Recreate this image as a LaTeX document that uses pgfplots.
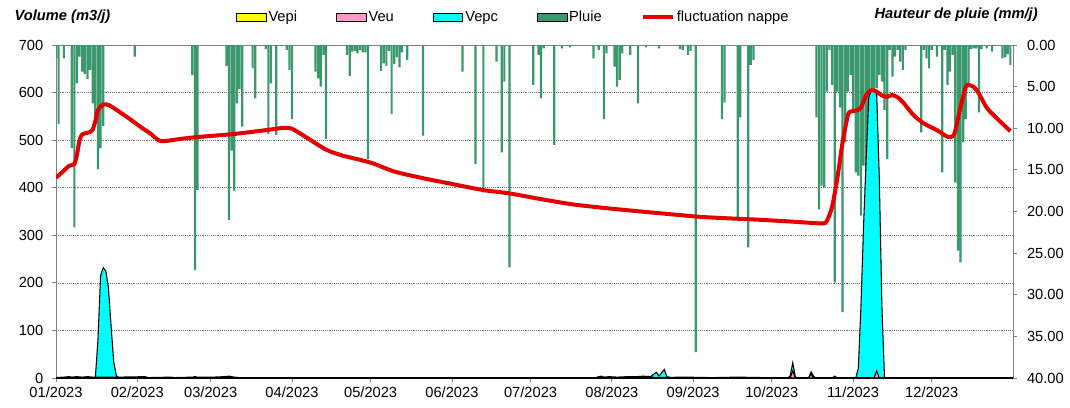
\documentclass[border=0pt]{standalone}
\usepackage{fontspec}
\setmainfont{Liberation Sans}
\usepackage{pgfplots}
\usepackage{pgfplotstable}
\pgfplotsset{compat=1.18}

\definecolor{pluie}{RGB}{58,152,108}
\definecolor{nappe}{RGB}{228,0,0}
\definecolor{vepc}{RGB}{0,255,255}
\definecolor{veu}{RGB}{255,153,204}
\definecolor{vepi}{RGB}{255,255,0}
\definecolor{cadre}{RGB}{128,128,128}

% pluie journaliere (mm/j), jour 0 = 01/01/2023
\pgfplotstableread{
jour mm
0 1.6
1 9.5
3 1.6
6 12.4
7 21.9
8 4.6
9 1.4
10 3.2
11 3.5
12 4.1
13 3.0
14 7.0
15 8.6
16 14.9
17 12.4
18 9.7
30 1.4
52 3.6
53 27.0
54 17.4
65 2.5
66 21.0
67 12.7
68 17.5
69 7.0
70 5.3
71 9.8
75 2.8
76 6.4
80 0.5
81 10.7
82 4.6
84 10.8
88 0.6
89 3.0
90 8.9
99 3.2
100 4.0
101 5.0
102 1.2
103 11.3
111 1.2
112 3.7
113 0.8
114 0.7
115 1.0
116 0.6
117 0.9
118 0.9
119 13.7
124 3.1
125 2.2
126 2.5
127 0.7
128 8.3
129 2.3
130 1.5
131 2.7
132 0.9
134 1.8
140 10.9
155 3.2
160 14.3
163 17.7
168 2.0
170 12.9
171 4.4
173 26.7
182 4.8
184 1.2
185 6.4
186 0.4
190 12.0
193 0.4
196 0.3
205 1.6
207 0.6
209 8.9
210 1.0
213 2.6
214 5.0
215 4.2
216 1.0
219 1.2
222 7.0
225 0.3
230 0.4
238 0.5
239 0.6
241 1.2
242 0.7
244 36.9
254 8.9
255 6.9
260 20.7
261 8.7
264 24.3
265 2.4
266 1.8
290 8.7
291 19.7
292 16.9
293 17.1
294 5.6
295 0.6
296 4.8
297 28.5
298 5.6
299 7.5
300 32.1
301 11.7
302 5.6
303 3.6
304 7.9
305 15.3
306 15.7
307 20.5
308 14.5
309 16.0
310 9.7
311 5.2
312 11.5
313 5.2
314 3.6
315 4.4
316 7.8
317 13.7
318 0.6
319 3.8
320 1.4
321 0.6
322 2.0
323 3.0
324 0.6
330 10.5
331 0.6
332 1.6
333 2.8
334 0.6
336 1.4
338 15.3
339 0.6
340 4.8
341 3.2
342 1.2
343 16.5
344 24.7
345 26.1
346 11.7
347 8.9
348 5.0
349 0.5
350 0.4
351 0.4
352 8.1
353 0.5
355 0.4
357 0.8
361 1.6
362 1.5
363 1.1
364 2.4
}\pluietab

\pgfplotstableread{
jour v
0 421
3 436
5 446
7 450
8 470
9 500
10 512
13 517
14 522
15 540
16 563
18 575
20 574
23 564
28 545
33 525
36 514
40 498
48 503
55 507
68 513
80 521
87 526
90 524
96 504
103 480
109 468
115 460
121 451
129 434
140 420
150 409
163 395
173 388
185 376
197 365
210 357
223 350
235 344
245 339
255 336
267 333
280 329
292 325
294 330
296 360
298 420
300 496
302 552
303 560
305 562
307 568
309 595
311 605
313 602
315 594
317 591
319 595
321 590
323 580
327 553
331 535
336 521
340 507
342 508
343 520
345 570
347 612
348 616
350 612
352 598
355 568
359 545
364 519
}\nappetab

\pgfplotstableread{
jour v
0 0
3 1
5 2
6 1
8 2
10 1
12 2
14 1
16 1
24 1
34 2
35 0
44 1
45 0
52 1
53 2
54 1
60 1
64 2
66 3
67 2
68 1
70 0
206 0
207 2
208 3
209 1
211 2
214 1
218 2
221 2
224 3
227 2
228 0
240 1
250 0
260 1
270 0
365 0
}\vepitab

\pgfplotstableread{
jour v
14 0
15 0
16 80
17 215
18 232
19 225
20 190
21 110
22 35
23 5
24 0
226 0
229 12
230 4
232 18
233 3
235 0
279 0
280 4
281 32
282 2
283 0
287 0
288 13
289 3
290 0
296 0
297 4
298 0
305 0
306 20
307 150
308 320
309 460
310 590
311 605
312 603
313 598
314 420
315 150
316 0
}\vepctab

\pgfplotstableread{
jour v
280 0
281 15
282 0
287 0
288 8
289 0
312 0
313 15
314 0
}\veutab

\pgfplotsset{
  commun/.style={
    width=717.75pt, height=249.75pt, scale only axis,
    xmin=0, xmax=365, enlargelimits=false,
    font=\fontsize{11}{13}\selectfont,
    /pgf/number format/assume math mode=true,
  },
  /pgfplots/area legend/.style={
    /pgfplots/legend image code/.code={\draw[##1] (0pt,-3pt) rectangle (22pt,3pt);}},
  ligne legende/.style={
    /pgfplots/legend image code/.code={\draw[##1] (0pt,0pt) -- (23pt,0pt);}},
}

\begin{document}
\begin{tikzpicture}
% axe des volumes : cadre, grille, graduations
\begin{axis}[commun, name=ax,
  ymin=0, ymax=700, ytick={0,100,...,700},
  xtick={0,31,59,90,120,151,181,212,243,273,304,334},
  xticklabels={01/2023,02/2023,03/2023,04/2023,05/2023,06/2023,07/2023,08/2023,09/2023,10/2023,11/2023,12/2023},
  xtick pos=left, ytick pos=left,
  tick align=outside, major tick length=3pt,
  axis line style={cadre}, tick style={cadre, semithick},
  ymajorgrids, major grid style={densely dotted, black!55},
  yticklabel style={xshift=-3pt},
]
\addplot[draw=none] coordinates {(0,0)};
\end{axis}

% pluie, axe de droite inverse
\begin{axis}[commun,
  ymin=0, ymax=40, y dir=reverse, ytick={0,5,...,40},
  axis y line*=right, axis x line=none,
  tick align=outside, major tick length=3pt,
  axis line style={cadre}, tick style={cadre, semithick},
  yticklabel style={xshift=4pt, /pgf/number format/fixed,
    /pgf/number format/fixed zerofill, /pgf/number format/precision=2},
]
\addplot[ybar, bar width=0.84, fill=pluie, draw=none] table[x=jour, y=mm] {\pluietab};
\end{axis}

% volumes et nappe
\begin{axis}[commun, hide axis,
  ymin=0, ymax=700,
  legend style={at={(0.478,1.084)}, anchor=center, draw=none, fill=none,
    legend columns=5, font=\fontsize{11}{13}\selectfont,
    /tikz/every even column/.append style={column sep=28pt},
    nodes={inner xsep=1.5pt}},
]
\addplot[fill=vepc, draw=black, line width=0.8pt, forget plot] table[x=jour, y=v] {\vepctab} \closedcycle;
\addplot[fill=vepi, draw=black, line width=1.4pt, forget plot] table[x=jour, y=v] {\vepitab} \closedcycle;
\addplot[fill=veu, draw=black, line width=0.8pt, forget plot] table[x=jour, y=v] {\veutab} \closedcycle;
\addplot[nappe, line width=3pt, smooth, tension=0.4, forget plot] table[x=jour, y=v] {\nappetab};
\addlegendimage{area legend, fill=vepi, draw=black, line width=0.6pt}
\addlegendentry{Vepi}
\addlegendimage{area legend, fill=veu, draw=black, line width=0.6pt}
\addlegendentry{Veu}
\addlegendimage{area legend, fill=vepc, draw=black, line width=0.6pt}
\addlegendentry{Vepc}
\addlegendimage{area legend, fill=pluie, draw=none}
\addlegendentry{Pluie}
\addlegendimage{ligne legende, nappe, line width=2.3pt}
\addlegendentry{fluctuation nappe}
\end{axis}

\node[anchor=west, font=\fontsize{11}{13}\selectfont\bfseries\itshape]
  at ([xshift=-34.5pt, yshift=21pt]ax.north west) {Volume (m3/j)};
\node[anchor=east, font=\fontsize{11}{13}\selectfont\bfseries\itshape]
  at ([xshift=22pt, yshift=22.5pt]ax.north east) {Hauteur de pluie (mm/j)};
\path ([xshift=-42pt, yshift=-21.75pt]ax.south west) rectangle ([xshift=42.75pt, yshift=33.75pt]ax.north east);
\end{tikzpicture}
\end{document}
